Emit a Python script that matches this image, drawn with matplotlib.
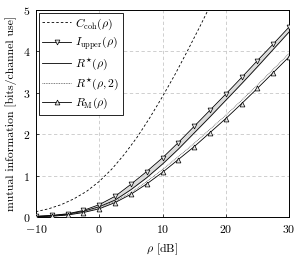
import numpy as np
import matplotlib
matplotlib.use("Agg")
import matplotlib.pyplot as plt

plt.rcParams["font.family"] = "serif"
plt.rcParams["font.serif"] = ["cmr10", "DejaVu Serif"]
plt.rcParams["mathtext.fontset"] = "cm"
plt.rcParams["axes.formatter.use_mathtext"] = True
plt.rcParams["font.size"] = 8.5

# coherent capacity (dashed)
snr_coh = [-10, -8, -6, -4, -2, 0, 2, 4, 6, 8, 10, 12, 14, 16, 18]
c_coh = [0.13, 0.20, 0.30, 0.44, 0.62, 0.86, 1.16, 1.52, 1.93, 2.40, 2.91, 3.45, 4.03, 4.63, 5.25]

# the other curves at 2.5 dB steps
snr = [-10, -7.5, -5, -2.5, 0, 2.5, 5, 7.5, 10, 12.5, 15, 17.5, 20, 22.5, 25, 27.5, 30]
i_upper = [0.02, 0.04, 0.08, 0.16, 0.30, 0.50, 0.79, 1.10, 1.43, 1.80, 2.19, 2.58, 2.97, 3.37, 3.78, 4.18, 4.59]
r_star = [0.015, 0.035, 0.07, 0.14, 0.25, 0.41, 0.66, 0.95, 1.28, 1.64, 2.03, 2.42, 2.82, 3.22, 3.63, 4.05, 4.47]
r_star2 = [0.01, 0.025, 0.055, 0.12, 0.22, 0.38, 0.59, 0.86, 1.15, 1.46, 1.78, 2.12, 2.46, 2.82, 3.19, 3.57, 3.95]
r_m = [0.01, 0.02, 0.05, 0.11, 0.20, 0.35, 0.55, 0.80, 1.08, 1.39, 1.70, 2.04, 2.38, 2.74, 3.11, 3.49, 3.87]

fig = plt.figure(figsize=(2.99, 2.56), dpi=100)
ax = fig.add_axes([0.120, 0.152, 0.847, 0.809])

ax.fill_between(snr, r_star, i_upper, color="#dcdcdc", linewidth=0, zorder=1)
ax.plot(snr_coh, c_coh, color="black", lw=0.6, ls=(0, (3, 2.5)), label=r"$C_{\mathrm{coh}}(\rho)$", zorder=3)
ax.plot(snr, i_upper, color="black", lw=0.6, marker="v", ms=3.5, mfc="#e8e8e8", mew=0.5,
        label=r"$I_{\mathrm{upper}}(\rho)$", zorder=4)
ax.plot(snr, r_star, color="black", lw=0.6, label=r"$R^{\star}(\rho)$", zorder=3)
ax.plot(snr, r_star2, color="#555555", lw=0.6, ls=(0, (1, 1)), label=r"$R^{\star}(\rho,2)$", zorder=3)
ax.plot(snr, r_m, color="black", lw=0.6, marker="^", ms=3.5, mfc="#e8e8e8", mew=0.5,
        label=r"$R_{\mathrm{M}}(\rho)$", zorder=4)

ax.set_xlim(-10, 30)
ax.set_ylim(0, 5)
ax.set_xticks([-10, 0, 10, 20, 30])
ax.set_yticks([0, 1, 2, 3, 4, 5])
ax.grid(True, color="#c8c8c8", ls=(0, (4, 3)), lw=0.6)
ax.tick_params(direction="in", length=2.5, width=0.5)
ax.tick_params(axis="x", pad=4)
ax.tick_params(axis="y", pad=4)
for s in ax.spines.values():
    s.set_linewidth(0.7)

ax.set_xlabel(r"$\rho$ [dB]", labelpad=5)
ax.set_ylabel("mutual information [bits/channel use]", labelpad=4)

leg = ax.legend(loc="upper left", fancybox=False, framealpha=1, edgecolor="black",
                handlelength=2.4, borderaxespad=0.25, labelspacing=0.3, handletextpad=0.35,
                borderpad=0.3)
leg.get_frame().set_linewidth(0.6)

fig.savefig("out.png", dpi=100)
